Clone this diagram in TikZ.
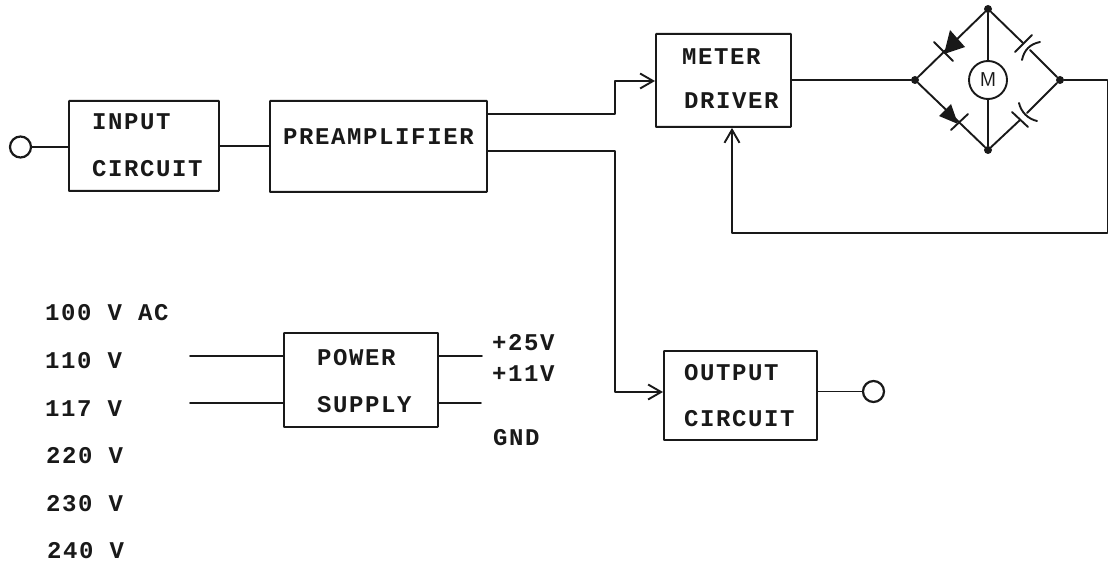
\documentclass[tikz,border=0pt]{standalone}
\usepackage{fontspec}
\setmonofont{Liberation Mono}
\newfontfamily\typed[LetterSpace=6.7]{Liberation Mono}
\usetikzlibrary{arrows.meta}
\colorlet{ink}{black!90}
\tikzset{
 x=1pt,y=-1pt,
 wire/.style={line width=1.9pt,line cap=round,line join=round,ink},
 blockbox/.style={draw=ink,line width=1.9pt,fill=none,inner sep=0pt,anchor=north west,rounded corners=0.5pt},
 lab/.style={font=\typed\bfseries\fontsize{24}{26}\selectfont,inner sep=0pt,text=ink,anchor=base west},
 openarrow/.style={-{Straight Barb[length=13pt,width=15pt,line width=1.9pt]}},
 term/.style={draw=ink,line width=2.2pt,circle,minimum size=21pt,inner sep=0pt},
 junct/.style={fill=ink,circle,minimum size=8pt,inner sep=0pt},
 plate/.style={line width=1.9pt,ink,line cap=round},
}
\begin{document}
\begin{tikzpicture}
\useasboundingbox (0,0) rectangle (1109,564);
\node[blockbox,minimum width=150pt,minimum height=90pt] (inp) at (68,100) {};
\node[lab] (inp1) at (92,130) {INPUT};
\node[lab] (inp2) at (92,177) {CIRCUIT};
\node[blockbox,minimum width=217pt,minimum height=91pt] (pre) at (269,100) {};
\node[lab] (pret) at (283,145) {PREAMPLIFIER};
\node[blockbox,minimum width=135pt,minimum height=93pt] (met) at (655,33) {};
\node[lab] (met1) at (682,65) {METER};
\node[lab] (met2) at (684,109) {DRIVER};
\node[blockbox,minimum width=153pt,minimum height=89pt] (out) at (663,350) {};
\node[lab] (out1) at (684,380) {OUTPUT};
\node[lab] (out2) at (684,426) {CIRCUIT};
\node[blockbox,minimum width=154pt,minimum height=94pt] (pow) at (283,332) {};
\node[lab] (pow1) at (317,365) {POWER};
\node[lab] (pow2) at (317,412) {SUPPLY};

\node[term] (in) at (20.5,147) {};
\node[term] (ot) at (873.5,391.5) {};
\draw[wire] (in) -- (in -| inp.west);
\draw[wire] (inp.east) -- (inp.east -| pre.west);
\draw[wire] (out.east |- ot) -- (ot);
\coordinate (t1) at (615,114);
\coordinate (t2) at (615,151);
\draw[wire,openarrow] (pre.east |- t1) -- (t1) -- (615,81) -- (met.west |- 0,81);
\draw[wire,openarrow] (pre.east |- t2) -- (t2) -- (615,392) -- (out.west |- 0,392);

\node[junct] (l) at (915,80) {};
\node[junct] (t) at (988,9) {};
\node[junct] (r) at (1060,80) {};
\node[junct] (b) at (988,150) {};
\node[draw=ink,line width=1.9pt,circle,minimum size=38pt,inner sep=0pt,font=\sffamily\fontsize{20}{20}\selectfont,text=ink] (m) at (988,80) {M};
\draw[wire] (met.east |- l) -- (l);
\draw[wire] (t) -- (m); \draw[wire] (b) -- (m);
\draw[wire] (t) -- (l); \draw[wire] (l) -- (b);
\draw[wire] (t) -- (1023,43); \draw[wire] (1030,50) -- (r);
\draw[wire] (b) -- (1020,120); \draw[wire] (1027,113) -- (r);
\fill[ink] (950,30) -- (965,47) -- (944,54) -- cycle;
\draw[plate] (934,42) -- (953,61);
\fill[ink] (951,104) -- (939,116) -- (958,124) -- cycle;
\draw[plate] (951,130) -- (968,114);
\draw[plate] (1015,52) -- (1032,35);
\draw[plate] (1022,60) .. controls (1024,50) and (1030,44) .. (1040,42);
\draw[plate] (1012,112) -- (1028,127);
\draw[plate] (1019,103) .. controls (1021,112) and (1028,119) .. (1037,121);
\draw[wire,openarrow] (r) -- (1107.5,80) -- (1107.5,233) -- (732,233) -- (met.south -| 732,0);

\node[lab] (va) at (45,320) {100 V AC};
\node[lab] (vb) at (45,368) {110 V};
\node[lab] (vc) at (45,416) {117 V};
\node[lab] (vd) at (46,463) {220 V};
\node[lab] (ve) at (46,511) {230 V};
\node[lab] (vf) at (47,558) {240 V};
\coordinate (il1) at (190,356);
\coordinate (il2) at (190,403);
\coordinate (ol1) at (482,356);
\coordinate (ol2) at (481,403);
\draw[wire] (il1) -- (il1 -| pow.west);
\draw[wire] (il2) -- (il2 -| pow.west);
\draw[wire] (ol1 -| pow.east) -- (ol1);
\draw[wire] (ol2 -| pow.east) -- (ol2);
\node[lab] (p1) at (492,350) {+25V};
\node[lab] (p2) at (492,381) {+11V};
\node[lab] (p3) at (493,445) {GND};
\end{tikzpicture}
\end{document}
